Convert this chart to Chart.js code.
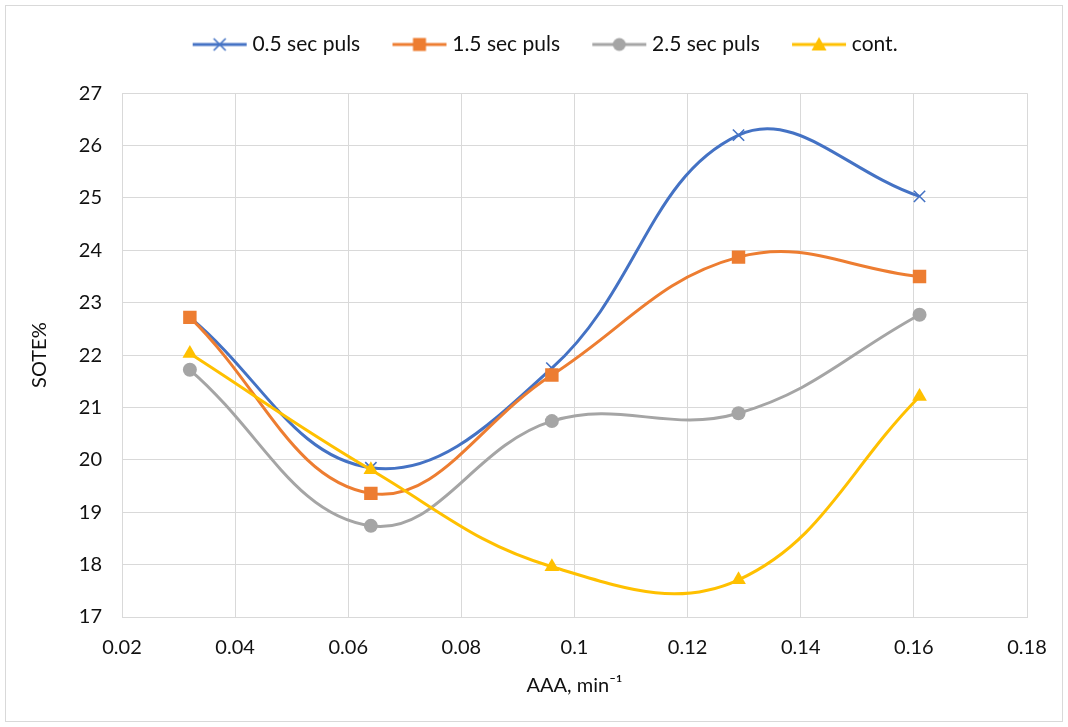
<!DOCTYPE html>
<html>
<head>
<meta charset="utf-8">
<script src="https://cdn.jsdelivr.net/npm/chart.js@4.4.0/dist/chart.umd.min.js"></script>
<style>
  html, body { margin: 0; padding: 0; background: #fff; }
  #wrap { width: 1068px; height: 727px; }
</style>
</head>
<body>
<div id="wrap"><canvas id="chart" width="1068" height="727"></canvas></div>
<script>
// ---- data ----
const xValues = [0.032, 0.064, 0.096, 0.129, 0.161];
const puls05 = [22.72, 19.85, 21.75, 26.2, 25.03];
const puls15 = [22.72, 19.36, 21.62, 23.87, 23.5];
const puls25 = [21.72, 18.74, 20.74, 20.89, 22.77];
const contValues = [22.03, 19.81, 17.96, 17.71, 21.21];
const seriesNames = ["0.5 sec puls", "1.5 sec puls", "2.5 sec puls", "cont."];
const seriesColors = ["#4472C4", "#ED7D31", "#A5A5A5", "#FFC000"];
const xTicks = [0.02, 0.04, 0.06, 0.08, 0.1, 0.12, 0.14, 0.16, 0.18];
const yTicks = [17, 18, 19, 20, 21, 22, 23, 24, 25, 26, 27];

const FONT = "Lato, 'Open Sans', sans-serif";
const TEXT = "#111";
const LEG_FS = 21;
const LEG_BOX = 71.5;

function toPoints(ys) {
  return xValues.map((x, i) => ({ x: x, y: ys[i] }));
}

// legend icon: a short line with the marker on top (like Excel);
// the line sits in the right part of the canvas so it ends just before the text
function legendIcon(color, marker) {
  const c = document.createElement("canvas");
  c.width = Math.round(LEG_BOX + 11); c.height = 20;
  const g = c.getContext("2d");
  const x1 = c.width - 1, x0 = x1 - 54;
  const cx = (x0 + x1) / 2, cy = 10;
  g.strokeStyle = color;
  g.fillStyle = color;
  g.lineWidth = 3;
  g.beginPath(); g.moveTo(x0, cy); g.lineTo(x1, cy); g.stroke();
  if (marker === "crossRot") {
    g.lineWidth = 1.6;
    g.beginPath();
    g.moveTo(cx - 6, cy - 6); g.lineTo(cx + 6, cy + 6);
    g.moveTo(cx + 6, cy - 6); g.lineTo(cx - 6, cy + 6);
    g.stroke();
  } else if (marker === "rect") {
    g.fillRect(cx - 6.5, cy - 6.5, 13, 13);
  } else if (marker === "circle") {
    g.beginPath(); g.arc(cx, cy, 6.5, 0, Math.PI * 2); g.fill();
  } else {
    g.beginPath();
    g.moveTo(cx, cy - 7.5); g.lineTo(cx + 7.5, cy + 6); g.lineTo(cx - 7.5, cy + 6);
    g.closePath(); g.fill();
  }
  return c;
}

const markers = ["crossRot", "rect", "circle", "triangle"];
const radii = [8, 9.5, 7, 8.5];
const allValues = [puls05, puls15, puls25, contValues];
const icons = markers.map((m, i) => legendIcon(seriesColors[i], m));

const datasets = allValues.map((vals, i) => ({
  label: seriesNames[i],
  data: toPoints(vals),
  showLine: true,
  borderColor: seriesColors[i],
  backgroundColor: seriesColors[i],
  borderWidth: 3,
  tension: 0.4,
  pointStyle: markers[i],
  pointRadius: radii[i],
  pointHoverRadius: radii[i],
  pointBorderWidth: markers[i] === "crossRot" ? 1.6 : 0,
  pointBorderColor: seriesColors[i],
  pointBackgroundColor: seriesColors[i],
  order: 3 - i
}));

const frame = {
  id: "frame",
  beforeDraw(chart) {
    const ctx = chart.ctx;
    ctx.save();
    ctx.fillStyle = "#fff";
    ctx.fillRect(0, 0, chart.width, chart.height);
    ctx.strokeStyle = "#d9d9d9";
    ctx.lineWidth = 1;
    ctx.strokeRect(5.5, 5.5, chart.width - 11, chart.height - 11);
    ctx.restore();
  }
};

new Chart(document.getElementById("chart"), {
  type: "scatter",
  data: { datasets: datasets },
  plugins: [frame],
  options: {
    responsive: false,
    animation: false,
    layout: { padding: { top: 24, left: 0, right: 0, bottom: 0 } },
    plugins: {
      tooltip: { enabled: false },
      // empty title used only as a spacer between the legend and the plot area
      title: {
        display: true,
        text: "",
        weight: 500,
        font: { size: 1 },
        padding: { top: 27, bottom: 0 }
      },
      legend: {
        position: "top",
        labels: {
          usePointStyle: true,
          pointStyleWidth: LEG_BOX,
          padding: 10,
          color: TEXT,
          font: { family: FONT, size: LEG_FS },
          generateLabels(chart) {
            return chart.data.datasets.map((d, i) => ({
              text: d.label,
              pointStyle: icons[i],
              fillStyle: d.borderColor,
              strokeStyle: d.borderColor,
              lineWidth: 0,
              hidden: false,
              datasetIndex: i,
              fontColor: TEXT
            }));
          }
        }
      }
    },
    scales: {
      x: {
        type: "linear",
        min: xTicks[0],
        max: xTicks[xTicks.length - 1],
        afterBuildTicks(scale) { scale.ticks = xTicks.map(v => ({ value: v })); },
        afterFit(scale) { scale.height = 110; },
        grid: { color: "#d9d9d9", lineWidth: 1, drawTicks: false },
        border: { color: "#d9d9d9" },
        ticks: {
          padding: 19,
          color: TEXT,
          font: { family: FONT, size: 20 },
          callback: v => String(Number(v.toFixed(2)))
        },
        title: {
          display: true,
          text: "AAA, min⁻¹",
          color: TEXT,
          font: { family: FONT, size: 20 },
          padding: { top: 0, bottom: 29 }
        }
      },
      y: {
        min: yTicks[0],
        max: yTicks[yTicks.length - 1],
        afterBuildTicks(scale) { scale.ticks = yTicks.map(v => ({ value: v })); },
        afterFit(scale) { scale.width = 122; },
        grid: { color: "#d9d9d9", lineWidth: 1, drawTicks: false },
        border: { color: "#d9d9d9" },
        ticks: {
          padding: 20,
          color: TEXT,
          font: { family: FONT, size: 20 }
        },
        title: {
          display: true,
          text: "SOTE%",
          color: TEXT,
          font: { family: FONT, size: 20 },
          padding: { top: 28, bottom: 0 }
        }
      },
      yRight: {
        position: "right",
        display: true,
        grid: { display: false, drawTicks: false },
        border: { display: false },
        ticks: { display: false },
        afterFit(scale) { scale.width = 41; }
      }
    }
  }
});
</script>
</body>
</html>
